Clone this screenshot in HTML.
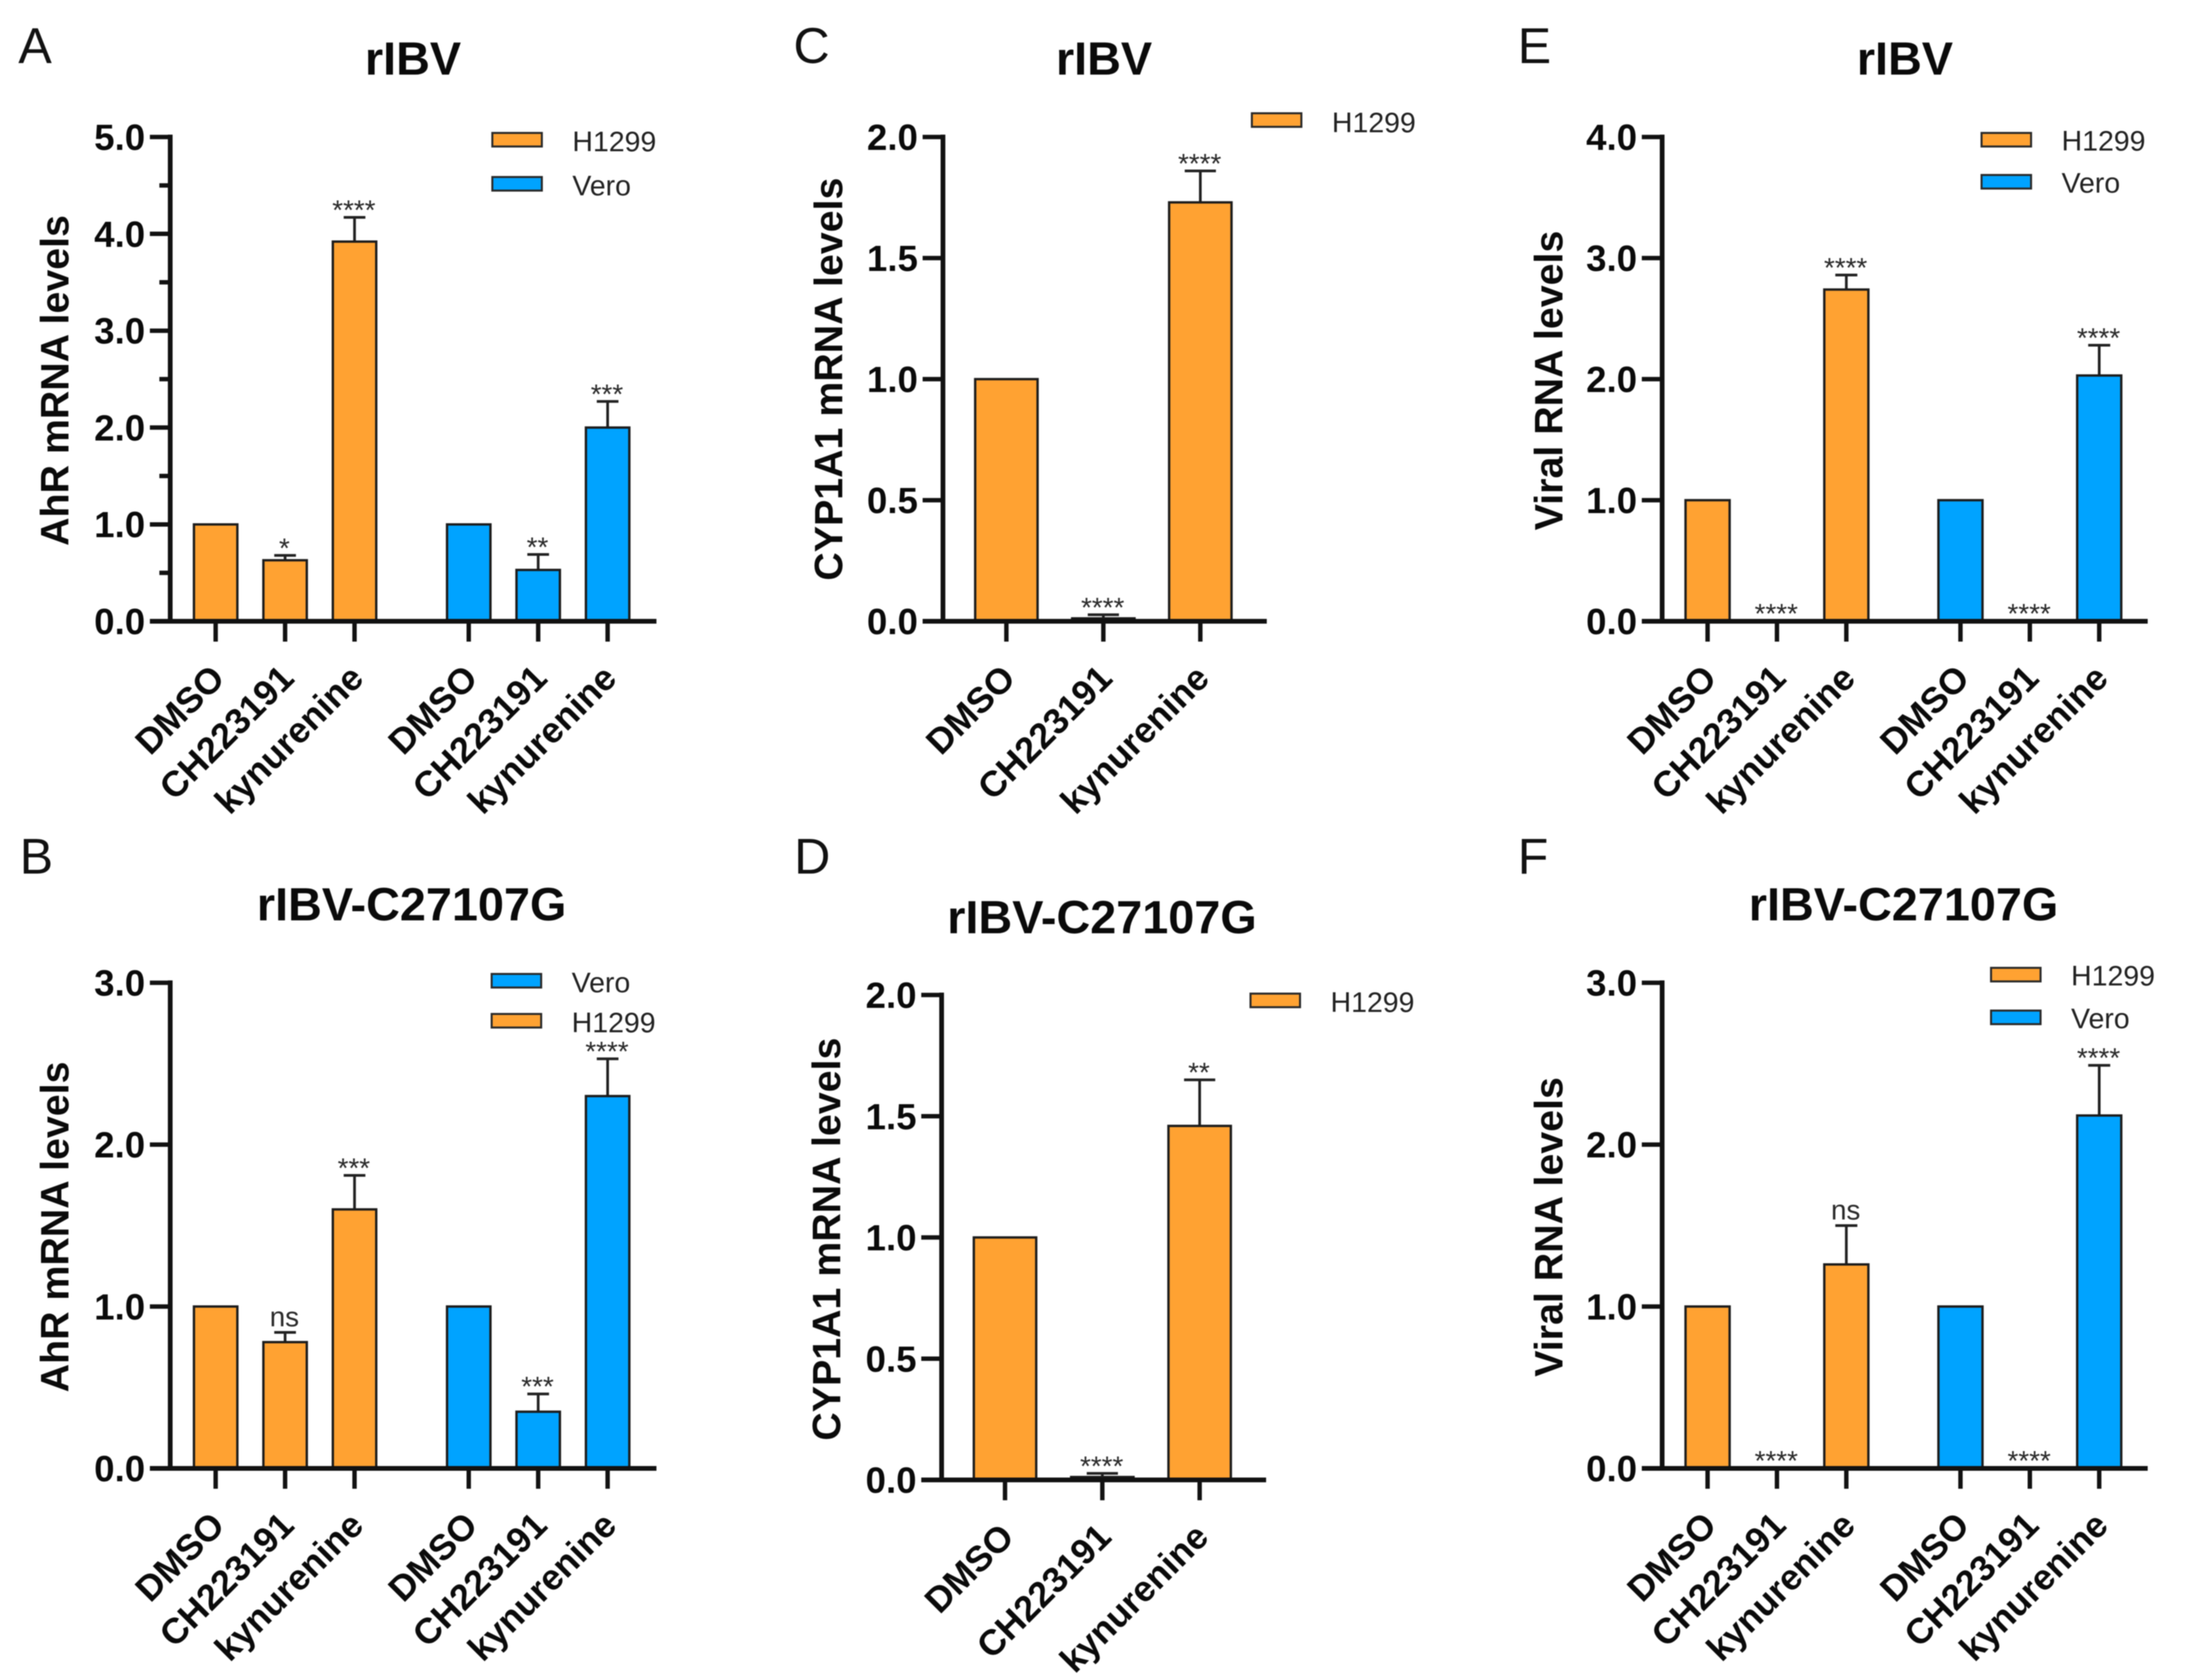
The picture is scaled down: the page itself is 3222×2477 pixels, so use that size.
<!DOCTYPE html>
<html lang="en">
<head>
<meta charset="utf-8">
<title>AhR, CYP1A1 and viral RNA levels</title>
<style>
html,body{margin:0;padding:0;background:#fff;}
svg{display:block;font-family:"Liberation Sans",Arial,sans-serif;filter:blur(0.7px);}
</style>
</head>
<body>
<svg id="fig" xmlns="http://www.w3.org/2000/svg" width="3222" height="2477" viewBox="0 0 3222 2477">
<rect x="0" y="0" width="3222" height="2477" fill="#ffffff"/>
</svg>
<script>
// Shared categories
const categories = ['DMSO', 'CH223191', 'kynurenine'];

// Panel A
const ticksA = ['0.0', '1.0', '2.0', '3.0', '4.0', '5.0'];
const minorTicksA = [0.5, 1.5, 2.5, 3.5, 4.5];
const h1299A = [1, 0.63, 3.92];
const h1299ErrA = [0, 0.05, 0.25];
const h1299SigA = ['', '*', '****'];
const veroA = [1, 0.53, 2.0];
const veroErrA = [0, 0.16, 0.27];
const veroSigA = ['', '**', '***'];

// Panel B
const ticksB = ['0.0', '1.0', '2.0', '3.0'];
const h1299B = [1, 0.78, 1.6];
const h1299ErrB = [0, 0.06, 0.21];
const h1299SigB = ['', 'ns', '***'];
const veroB = [1, 0.35, 2.3];
const veroErrB = [0, 0.11, 0.23];
const veroSigB = ['', '***', '****'];

// Panel C
const ticksC = ['0.0', '0.5', '1.0', '1.5', '2.0'];
const h1299C = [1, 0.012, 1.73];
const h1299ErrC = [0, 0.015, 0.13];
const h1299SigC = ['', '****', '****'];

// Panel D
const ticksD = ['0.0', '0.5', '1.0', '1.5', '2.0'];
const h1299D = [1, 0.012, 1.46];
const h1299ErrD = [0, 0.015, 0.19];
const h1299SigD = ['', '****', '**'];

// Panel E
const ticksE = ['0.0', '1.0', '2.0', '3.0', '4.0'];
const h1299E = [1, 0.002, 2.74];
const h1299ErrE = [0, 0, 0.12];
const h1299SigE = ['', '****', '****'];
const veroE = [1, 0.002, 2.03];
const veroErrE = [0, 0, 0.25];
const veroSigE = ['', '****', '****'];

// Panel F
const ticksF = ['0.0', '1.0', '2.0', '3.0'];
const h1299F = [1, 0.002, 1.26];
const h1299ErrF = [0, 0, 0.24];
const h1299SigF = ['', '****', 'ns'];
const veroF = [1, 0.002, 2.18];
const veroErrF = [0, 0, 0.31];
const veroSigF = ['', '****', '****'];

const ORANGE = '#FFA232';
const BLUE = '#00A3FF';
const INK = '#111111';
const svg = document.getElementById('fig');
const NS = 'http://www.w3.org/2000/svg';

function mk(tag, attrs, text) {
  const el = document.createElementNS(NS, tag);
  for (const k in attrs) el.setAttribute(k, attrs[k]);
  if (text !== undefined) el.textContent = text;
  return el;
}

function drawPanel(p) {
  const g = mk('g', {});
  
  
  svg.appendChild(g);

  const tickVals = p.ticks.map(Number);
  const yMax = tickVals[tickVals.length - 1];
  const yScale = v => p.y0 - (v / yMax) * (p.y0 - p.yTop);
  const xScale = i => p.xFirst + p.step * i + (i >= 3 ? p.gap : 0);

  const letter = mk('text', {x: p.letterX, y: p.letterY, 'font-size': 74, fill: '#111'}, p.letter);
  
  
  g.appendChild(letter);

  const title = mk('text', {x: p.titleX, y: p.titleY, 'font-size': 69, 'font-weight': 'bold', 'text-anchor': 'middle', fill: '#0a0a0a'}, p.title);
  
  
  g.appendChild(title);

  const yTitle = mk('text', {transform: 'translate(' + p.yTitleX + ',' + p.yTitleY + ') rotate(-90)', 'font-size': 58, 'font-weight': 'bold', 'text-anchor': 'middle', fill: '#0a0a0a'}, p.yLabel);
  
  
  g.appendChild(yTitle);

  // Bars, error bars, significance labels
  p.series.forEach((s, si) => {
    s.values.forEach((v, ci) => {
      const idx = si * 3 + ci;
      const cx = xScale(idx);
      const top = yScale(v);
      const errTop = yScale(v + s.errs[ci]);
      if (s.errs[ci] > 0) {
        const stem = mk('line', {x1: cx, x2: cx, y1: top, y2: errTop, stroke: '#222', 'stroke-width': 4});
        
        
        g.appendChild(stem);
        const cap = mk('line', {x1: cx - p.barW * 0.25, x2: cx + p.barW * 0.25, y1: errTop, y2: errTop, stroke: '#222', 'stroke-width': 4});
        
        
        g.appendChild(cap);
      }
      const bar = mk('rect', {x: cx - p.barW / 2, y: top, width: p.barW, height: Math.max(0, p.y0 - top), fill: s.color, stroke: '#1c1c1c', 'stroke-width': 3.5});
      
      
      g.appendChild(bar);
      const sig = s.sigs[ci];
      if (sig) {
        const isNs = sig === 'ns';
        const lab = mk('text', {x: cx - 1, y: errTop + (isNs ? -9 : 3), 'font-size': 41, 'text-anchor': 'middle', fill: '#2a2a2a'}, sig);
        
        
        g.appendChild(lab);
      }
    });
  });

  // Axes
  const yAxis = mk('line', {x1: p.xAxis, x2: p.xAxis, y1: p.yTop - 3.5, y2: p.y0 + 3.5, stroke: INK, 'stroke-width': 7});
  
  
  g.appendChild(yAxis);
  const xAxis = mk('line', {x1: p.xAxis - 30, x2: p.xEnd, y1: p.y0, y2: p.y0, stroke: INK, 'stroke-width': 7});
  
  
  g.appendChild(xAxis);

  tickVals.forEach((v, i) => {
    const y = yScale(v);
    const t = mk('line', {x1: p.xAxis - 30, x2: p.xAxis, y1: y, y2: y, stroke: INK, 'stroke-width': 6.5});
    
    
    g.appendChild(t);
    const lab = mk('text', {x: p.xAxis - 37, y: y + 19, 'font-size': 54, 'font-weight': 'bold', 'text-anchor': 'end', fill: '#0a0a0a'}, p.ticks[i]);
    
    
    g.appendChild(lab);
  });
  (p.minor || []).forEach(v => {
    const y = yScale(v);
    const t = mk('line', {x1: p.xAxis - 16, x2: p.xAxis, y1: y, y2: y, stroke: INK, 'stroke-width': 6.5});
    
    
    g.appendChild(t);
  });

  p.series.forEach((s, si) => {
    categories.forEach((c, ci) => {
      const cx = xScale(si * 3 + ci);
      const t = mk('line', {x1: cx, x2: cx, y1: p.y0, y2: p.y0 + 30, stroke: INK, 'stroke-width': 6.5});
      
      
      g.appendChild(t);
      const lab = mk('text', {transform: 'translate(' + (cx + 16) + ',' + (p.y0 + 87) + ') rotate(-45)', 'font-size': 53, 'font-weight': 'bold', 'text-anchor': 'end', fill: '#0a0a0a'}, c);
      
      
      g.appendChild(lab);
    });
  });

  // Legend
  p.legend.forEach(e => {
    const sw = mk('rect', {x: e.sx, y: e.sy - 1, width: 73, height: 20, fill: e.color, stroke: '#2a2a2a', 'stroke-width': 3});
    
    
    g.appendChild(sw);
    const tx = mk('text', {x: e.sx + 118, y: e.ty, 'font-size': 42, fill: '#222'}, e.name);
    
    
    g.appendChild(tx);
  });
}

drawPanel({letter: 'A', letterX: 27, letterY: 93, title: 'rIBV', titleX: 609, titleY: 110,
  yLabel: 'AhR mRNA levels', yTitleX: 101, yTitleY: 561,
  ticks: ticksA, minor: minorTicksA, xAxis: 251, xEnd: 968, yTop: 202, y0: 916,
  xFirst: 318, step: 102.4, gap: 66, barW: 64,
  series: [{name: 'H1299', color: ORANGE, values: h1299A, errs: h1299ErrA, sigs: h1299SigA},
           {name: 'Vero', color: BLUE, values: veroA, errs: veroErrA, sigs: veroSigA}],
  legend: [{name: 'H1299', color: ORANGE, sx: 726, sy: 197, ty: 223},
           {name: 'Vero', color: BLUE, sx: 726, sy: 262, ty: 288}]});

drawPanel({letter: 'B', letterX: 29, letterY: 1288, title: 'rIBV-C27107G', titleX: 607, titleY: 1357,
  yLabel: 'AhR mRNA levels', yTitleX: 101, yTitleY: 1809,
  ticks: ticksB, xAxis: 251, xEnd: 968, yTop: 1449, y0: 2165,
  xFirst: 318, step: 102.4, gap: 66, barW: 64,
  series: [{name: 'H1299', color: ORANGE, values: h1299B, errs: h1299ErrB, sigs: h1299SigB},
           {name: 'Vero', color: BLUE, values: veroB, errs: veroErrB, sigs: veroSigB}],
  legend: [{name: 'Vero', color: BLUE, sx: 725, sy: 1437, ty: 1463},
           {name: 'H1299', color: ORANGE, sx: 725, sy: 1496, ty: 1522}]});

drawPanel({letter: 'C', letterX: 1170, letterY: 93, title: 'rIBV', titleX: 1628, titleY: 110,
  yLabel: 'CYP1A1 mRNA levels', yTitleX: 1242, yTitleY: 559,
  ticks: ticksC, xAxis: 1390.5, xEnd: 1868, yTop: 202, y0: 916,
  xFirst: 1484, step: 143, gap: 0, barW: 92,
  series: [{name: 'H1299', color: ORANGE, values: h1299C, errs: h1299ErrC, sigs: h1299SigC}],
  legend: [{name: 'H1299', color: ORANGE, sx: 1846, sy: 168, ty: 195}]});

drawPanel({letter: 'D', letterX: 1171, letterY: 1288, title: 'rIBV-C27107G', titleX: 1625, titleY: 1376,
  yLabel: 'CYP1A1 mRNA levels', yTitleX: 1239, yTitleY: 1827,
  ticks: ticksD, xAxis: 1388.5, xEnd: 1867, yTop: 1467, y0: 2182,
  xFirst: 1482, step: 143.5, gap: 0, barW: 92,
  series: [{name: 'H1299', color: ORANGE, values: h1299D, errs: h1299ErrD, sigs: h1299SigD}],
  legend: [{name: 'H1299', color: ORANGE, sx: 1844, sy: 1466, ty: 1492}]});

drawPanel({letter: 'E', letterX: 2238, letterY: 93, title: 'rIBV', titleX: 2809, titleY: 110,
  yLabel: 'Viral RNA levels', yTitleX: 2304, yTitleY: 561,
  ticks: ticksE, xAxis: 2451, xEnd: 3167, yTop: 202, y0: 916,
  xFirst: 2518, step: 102.3, gap: 66, barW: 65,
  series: [{name: 'H1299', color: ORANGE, values: h1299E, errs: h1299ErrE, sigs: h1299SigE},
           {name: 'Vero', color: BLUE, values: veroE, errs: veroErrE, sigs: veroSigE}],
  legend: [{name: 'H1299', color: ORANGE, sx: 2922, sy: 197, ty: 222},
           {name: 'Vero', color: BLUE, sx: 2922, sy: 259, ty: 284}]});

drawPanel({letter: 'F', letterX: 2238, letterY: 1288, title: 'rIBV-C27107G', titleX: 2807, titleY: 1357,
  yLabel: 'Viral RNA levels', yTitleX: 2304, yTitleY: 1809,
  ticks: ticksF, xAxis: 2451, xEnd: 3167, yTop: 1449, y0: 2165,
  xFirst: 2518, step: 102.3, gap: 66, barW: 65,
  series: [{name: 'H1299', color: ORANGE, values: h1299F, errs: h1299ErrF, sigs: h1299SigF},
           {name: 'Vero', color: BLUE, values: veroF, errs: veroErrF, sigs: veroSigF}],
  legend: [{name: 'H1299', color: ORANGE, sx: 2936, sy: 1428, ty: 1453},
           {name: 'Vero', color: BLUE, sx: 2936, sy: 1491, ty: 1516}]});
</script>
</body>
</html>
